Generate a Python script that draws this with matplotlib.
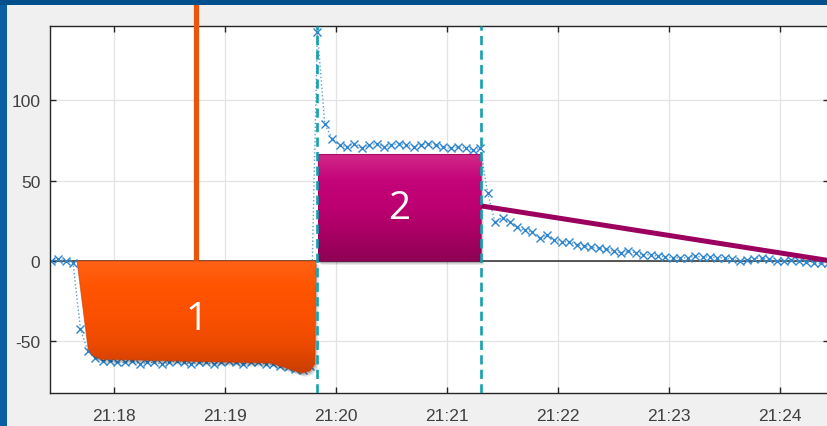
import numpy as np
import pandas as pd
import matplotlib
matplotlib.use("Agg")
import matplotlib.pyplot as plt
from matplotlib.patches import Polygon, Rectangle
from matplotlib.colors import LinearSegmentedColormap
import matplotlib.transforms as mtransforms

# ---------------- data ----------------
values = [0, 1, 0, -1,
          -42, -56, -60, -62,
          -62, -63, -63, -62, -64, -63, -63, -64, -63, -62, -63, -64, -63, -63, -64, -63,
          -62, -63, -64, -63, -63, -64,
          -64, -65, -66, -67, -68, -65,
          142, 85, 76, 72,
          71, 73, 70, 72, 73, 71, 72, 73, 72, 71, 72, 73, 72, 71, 70, 71, 70, 69,
          70,
          42,
          24, 27, 24, 21, 19, 18, 14, 16, 13, 12, 12, 10, 9.5, 8.5, 8, 7.5, 6, 5, 6, 5,
          4, 3.7, 3, 2.5, 2, 2, 2, 3, 2.5, 2.5, 2, 2, 1, 0, 0.5, 1.5, 2, 1, 0, 0,
          0.6, 0, -0.5, -1, -1.5, -1]
times = pd.date_range("2000-01-01 21:17:26", periods=len(values), freq="4s")
t_min = (times.hour - 21) * 60 + times.minute + times.second / 60.0

tick_minutes = [18, 19, 20, 21, 22, 23, 24]
tick_labels = ["21:18", "21:19", "21:20", "21:21", "21:22", "21:23", "21:24"]
ytick_vals = [-50, 0, 50, 100]
ytick_labels = ["-50", "0", "50", "100"]

event_times = [19.829, 21.31]            # dashed markers
callout1_time = 18.745                    # orange pointer line
xlim = (17.4264, 24.443)
ylim = (-82, 146)

# ---------------- figure ----------------
fig = plt.figure(figsize=(8.27, 4.27), dpi=100, facecolor="#f0f0f0")
ax = fig.add_axes([50 / 827, 33 / 427, 1.003 - 50 / 827, 367 / 427])
ax.set_facecolor("white")

# blue frame strips
fig.patches.append(Rectangle((0, 0), 7 / 827, 1, transform=fig.transFigure,
                             facecolor="#0a5ea3", edgecolor="none", zorder=0))
fig.patches.append(Rectangle((0, 1 - 6 / 427), 1, 6 / 427, transform=fig.transFigure,
                             facecolor="#01508c", edgecolor="none", zorder=0))

ax.grid(True, color="#e3e3e3", lw=0.9, zorder=0)
ax.set_axisbelow(True)
ax.axhline(0, color="#2b2b2b", lw=1.1, zorder=1)

ax.plot(t_min, values, ls=":", lw=1.0, color="#5aa0da", marker="x", ms=5.5,
        mew=1.0, mfc="none", mec="#2f86cc", zorder=2)

# orange pointer line
ax.plot([callout1_time, callout1_time], [0, 170], color="#e8560c", lw=3.8,
        solid_capstyle="butt", clip_on=False, zorder=3)

# purple pointer line
ax.plot([event_times[1], xlim[1] + 0.02], [34.2, 0], color="#9b005f", lw=3.6,
        solid_capstyle="butt", zorder=3)


def shadowed_gradient(verts, colors, z):
    for dx, dy, a in [(0.03, -0.04, 0.08), (0.02, -0.03, 0.10), (0.01, -0.02, 0.13)]:
        off = mtransforms.ScaledTranslation(dx, dy, fig.dpi_scale_trans)
        sh = Polygon(verts, closed=True, facecolor="black", edgecolor="none",
                     alpha=a, transform=ax.transData + off, zorder=z - 0.1)
        ax.add_patch(sh)
    poly = Polygon(verts, closed=True, facecolor="none", edgecolor="none", zorder=z)
    ax.add_patch(poly)
    xs = [v[0] for v in verts]
    ys = [v[1] for v in verts]
    cmap = LinearSegmentedColormap.from_list("g", colors)
    grad = np.linspace(0, 1, 256).reshape(-1, 1)
    im = ax.imshow(grad, cmap=cmap, aspect="auto", origin="upper",
                   extent=[min(xs), max(xs), min(ys), max(ys)], zorder=z,
                   interpolation="bilinear")
    im.set_clip_path(poly)
    edge = Polygon(verts, closed=True, facecolor="none", edgecolor=colors[-1],
                   lw=0.8, alpha=0.6, zorder=z + 0.05)
    ax.add_patch(edge)


shape1 = [(17.670, 0), (19.820, 0), (19.811, -64), (19.766, -68.3), (19.694, -69.6),
          (19.414, -63.4), (17.880, -61.0), (17.806, -58.4), (17.770, -54.7)]
shadowed_gradient(shape1, ["#ff6216", "#ff5400", "#fa5000", "#ec4a00", "#c83e00"], 4)

shape2 = [(event_times[0] + 0.008, 0), (event_times[1], 0), (event_times[1], 66.5),
          (event_times[0] + 0.008, 66.5)]
shadowed_gradient(shape2, ["#d22a88", "#c4047a", "#bc0070", "#a80064", "#8e0054"], 4)

ax.text(18.745, -36, "1", color="white", fontsize=28, family=["Open Sans", "DejaVu Sans"],
        ha="center", va="center", zorder=6)
ax.text(20.57, 33, "2", color="white", fontsize=28, family=["Open Sans", "DejaVu Sans"],
        ha="center", va="center", zorder=6)

for et in event_times:
    ax.axvline(et, color="#16a0ae", lw=1.9, ls=(0, (3.5, 2.0)), zorder=7)

ax.set_xlim(*xlim)
ax.set_ylim(*ylim)
ax.set_xticks(tick_minutes)
ax.set_xticklabels(tick_labels)
ax.set_yticks(ytick_vals)
ax.set_yticklabels(ytick_labels)
ax.tick_params(direction="in", length=4, width=1, color="#262626",
               top=True, right=True, labelsize=12.5, labelcolor="#404040")
ax.tick_params(axis="x", pad=11)
ax.tick_params(axis="y", pad=7)
for lab in ax.get_xticklabels() + ax.get_yticklabels():
    lab.set_family(["Liberation Sans", "DejaVu Sans"])
for s in ax.spines.values():
    s.set_color("#262626")
    s.set_linewidth(1.0)

fig.savefig("out.png", dpi=100, facecolor=fig.get_facecolor())
